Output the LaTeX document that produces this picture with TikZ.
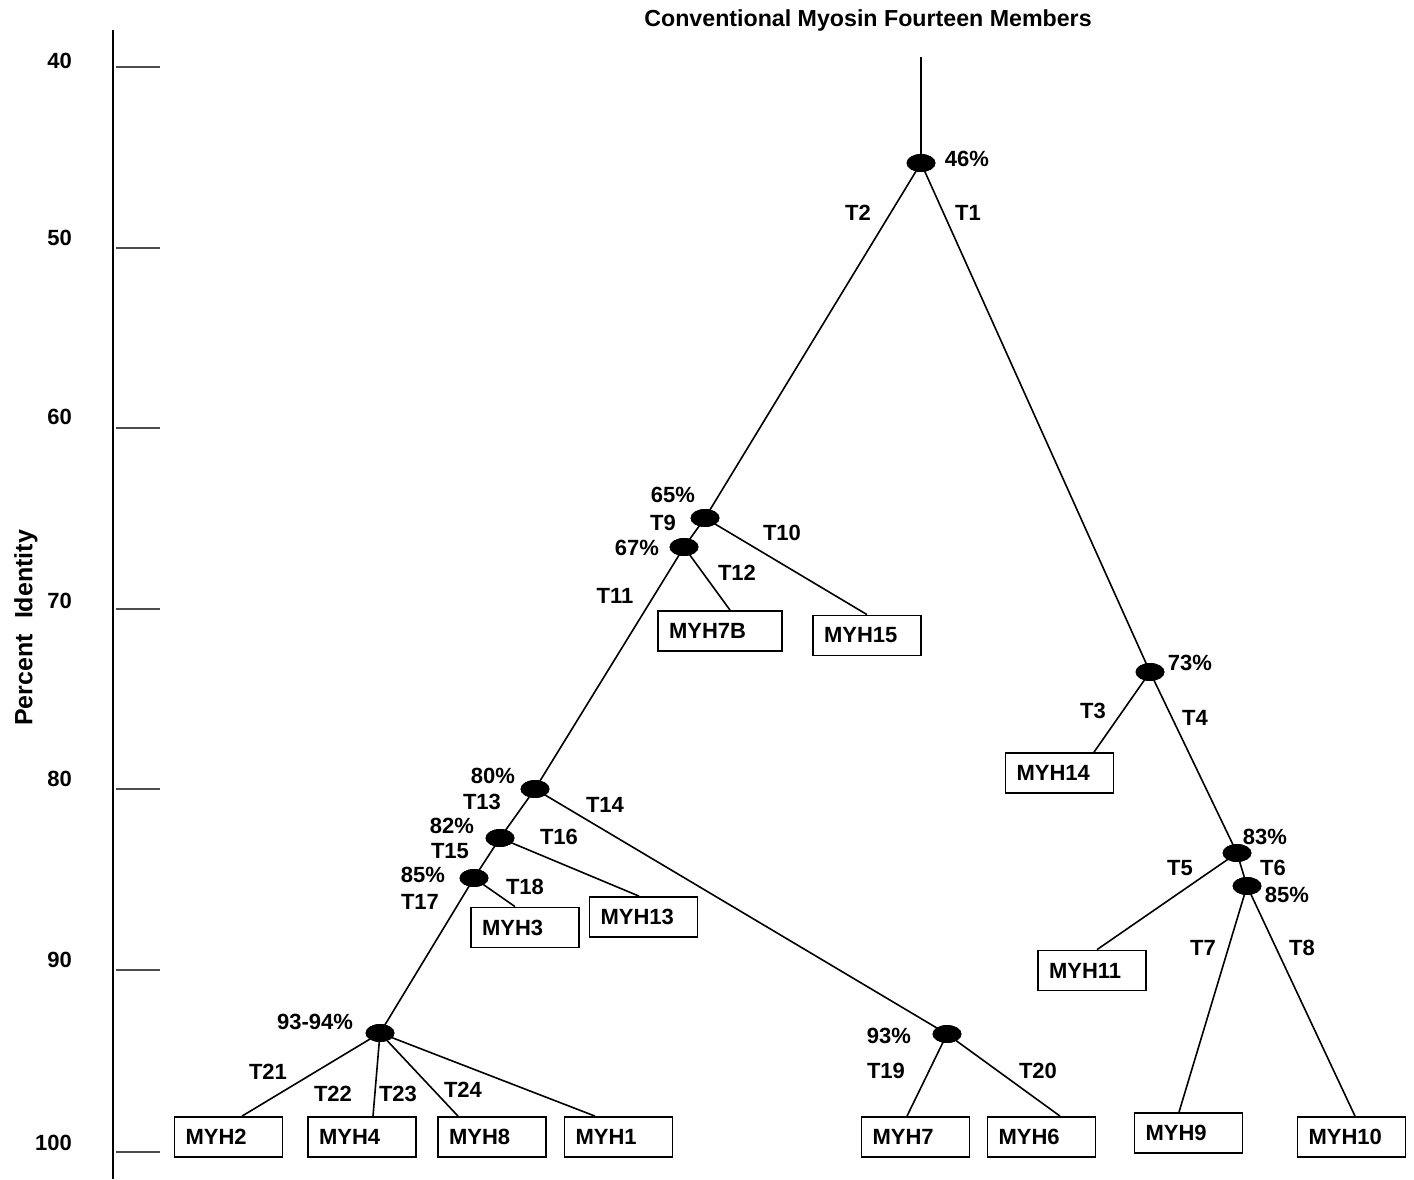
\documentclass[tikz,border=0pt]{standalone}
\usepackage{fontspec}
\setmainfont{Liberation Sans}
\usetikzlibrary{shapes.geometric}

\begin{document}
\begin{tikzpicture} [x=0.5pt, y=-0.5pt, font=\bfseries\fontsize{11}{13}\selectfont,
  dot/.style={draw, fill, ellipse, minimum width=14pt, minimum height=8.5pt, inner sep=0pt},
  leaf/.style={draw, line width=0.9pt, minimum height=20pt, text width=43pt, inner xsep=5.5pt, align=left},
  branch/.style={line width=0.8pt},
  tick/.style={line width=1.4pt, black!70}]
\useasboundingbox (0,0) rectangle (1414,1179);
% axis
\coordinate (axtop) at (113,30);
\coordinate (axbot) at (113,1179);
\draw [line width=1pt](axtop) -- (axbot);
\draw [tick](116,67) -- (160,67);
\draw [tick](116,248) -- (160,248);
\draw [tick](116,428) -- (160,428);
\draw [tick](116,609) -- (160,609);
\draw [tick](116,789) -- (160,789);
\draw [tick](116,970) -- (160,970);
\draw [tick](116,1152) -- (160,1152);
\node[anchor=east](a40) at (79,61){40};
\node[anchor=east](a50) at (79,238){50};
\node[anchor=east](a60) at (79,417){60};
\node[anchor=east](a70) at (79,601){70};
\node[anchor=east](a80) at (79,779){80};
\node[anchor=east](a90) at (79,960){90};
\node[anchor=east](a100) at (79,1143){100};
\node[rotate=90, font=\bfseries\fontsize{12.5}{14}\selectfont](ylabel) at (26,628){Percent\,\, Identity};
\node[font=\bfseries\fontsize{11.6}{13}\selectfont](title) at (868,20){Conventional Myosin Fourteen Members};

% branch points
\coordinate (root) at (921,57);
\node[dot](n46) at (921,163){};
\node[dot](n65) at (705,518){};
\node[dot](n67) at (684,547){};
\node[dot](n73) at (1150,672){};
\node[dot](n80) at (535,789){};
\node[dot](n82) at (500,838){};
\node[dot](n85) at (474,878){};
\node[dot](n83) at (1237,853){};
\node[dot](n85b) at (1247,886){};
\node[dot](n9394) at (380,1033){};
\node[dot](n93) at (947,1034){};

% leaves
\node[leaf, text width=51pt](myh7b) at (720,631){MYH7B};
\node[leaf](myh15) at (867,635.5){MYH15};
\node[leaf](myh14) at (1059.5,773){MYH14};
\node[leaf](myh11) at (1092,970.5){MYH11};
\node[leaf](myh9) at (1188.5,1133){MYH9};
\node[leaf](myh10) at (1351.5,1137){MYH10};
\node[leaf](myh3) at (525,927.5){MYH3};
\node[leaf](myh13) at (643.5,917){MYH13};
\node[leaf](myh2) at (228.5,1137){MYH2};
\node[leaf](myh4) at (362,1137){MYH4};
\node[leaf](myh8) at (492,1137){MYH8};
\node[leaf](myh1) at (618.5,1137){MYH1};
\node[leaf](myh7) at (915.5,1137){MYH7};
\node[leaf](myh6) at (1041.5,1137){MYH6};

% branches
\draw [branch](root) -- (n46.center);
\draw [branch](n46.center) -- (n65.center);
\draw [branch](n46.center) -- (n73.center);
\draw [branch](n65.center) -- (n67.center);
\draw [branch](n65.center) -- (myh15.north);
\draw [branch](n67.center) -- ([xshift=5pt]myh7b.north);
\draw [branch](n67.center) -- (n80.center);
\draw [branch](n80.center) -- (n82.center);
\draw [branch](n80.center) -- (n93.center);
\draw [branch](n82.center) -- (n85.center);
\draw [branch](n82.center) -- ([xshift=-2.25pt]myh13.north);
\draw [branch](n85.center) -- ([xshift=-5pt]myh3.north);
\draw [branch](n85.center) -- (n9394.center);
\draw [branch](n9394.center) -- ([xshift=6.75pt]myh2.north);
\draw [branch](n9394.center) -- ([xshift=5.5pt]myh4.north);
\draw [branch](n9394.center) -- ([xshift=-17pt]myh8.north);
\draw [branch](n9394.center) -- ([xshift=-11.75pt]myh1.north);
\draw [branch](n93.center) -- ([xshift=-4.25pt]myh7.north);
\draw [branch](n93.center) -- ([xshift=9.25pt]myh6.north);
\draw [branch](n73.center) -- ([xshift=17.25pt]myh14.north);
\draw [branch](n73.center) -- (n83.center);
\draw [branch](n83.center) -- ([xshift=2.5pt]myh11.north);
\draw [branch](n83.center) -- (n85b.center);
\draw [branch](n85b.center) -- ([xshift=-4.75pt]myh9.north);
\draw [branch](n85b.center) -- ([xshift=1.75pt]myh10.north);

% redraw the dots on top of the lines
\foreach \d in {n46,n65,n67,n73,n80,n82,n85,n83,n85b,n9394,n93}
  \node[dot] at (\d){};

% percentages
\node(p46) at (967,159){46\%};
\node(p65) at (673,495){65\%};
\node(p67) at (637,548){67\%};
\node(p73) at (1190,663){73\%};
\node(p80) at (493,776){80\%};
\node(p82) at (452,826){82\%};
\node(p85) at (423,875){85\%};
\node(p83) at (1265,837){83\%};
\node(p85b) at (1287,895){85\%};
\node(p9394) at (315,1022){93-94\%};
\node(p93) at (889,1036){93\%};

% branch names
\node(t1) at (968,213){T1};
\node(t2) at (858,213){T2};
\node(t3) at (1093,711){T3};
\node(t4) at (1195,718){T4};
\node(t5) at (1180,868){T5};
\node(t6) at (1273,868){T6};
\node(t7) at (1203,948){T7};
\node(t8) at (1302,948){T8};
\node(t9) at (663,523){T9};
\node(t10) at (782,533){T10};
\node(t11) at (615,596){T11};
\node(t12) at (737,573){T12};
\node(t13) at (482,802){T13};
\node(t14) at (605,805){T14};
\node(t15) at (450,851){T15};
\node(t16) at (559,837){T16};
\node(t17) at (420,902){T17};
\node(t18) at (525,887){T18};
\node(t19) at (886,1071){T19};
\node(t20) at (1038,1071){T20};
\node(t21) at (268,1072){T21};
\node(t22) at (333,1094){T22};
\node(t23) at (398,1094){T23};
\node(t24) at (463,1090){T24};
\end{tikzpicture}
\end{document}
